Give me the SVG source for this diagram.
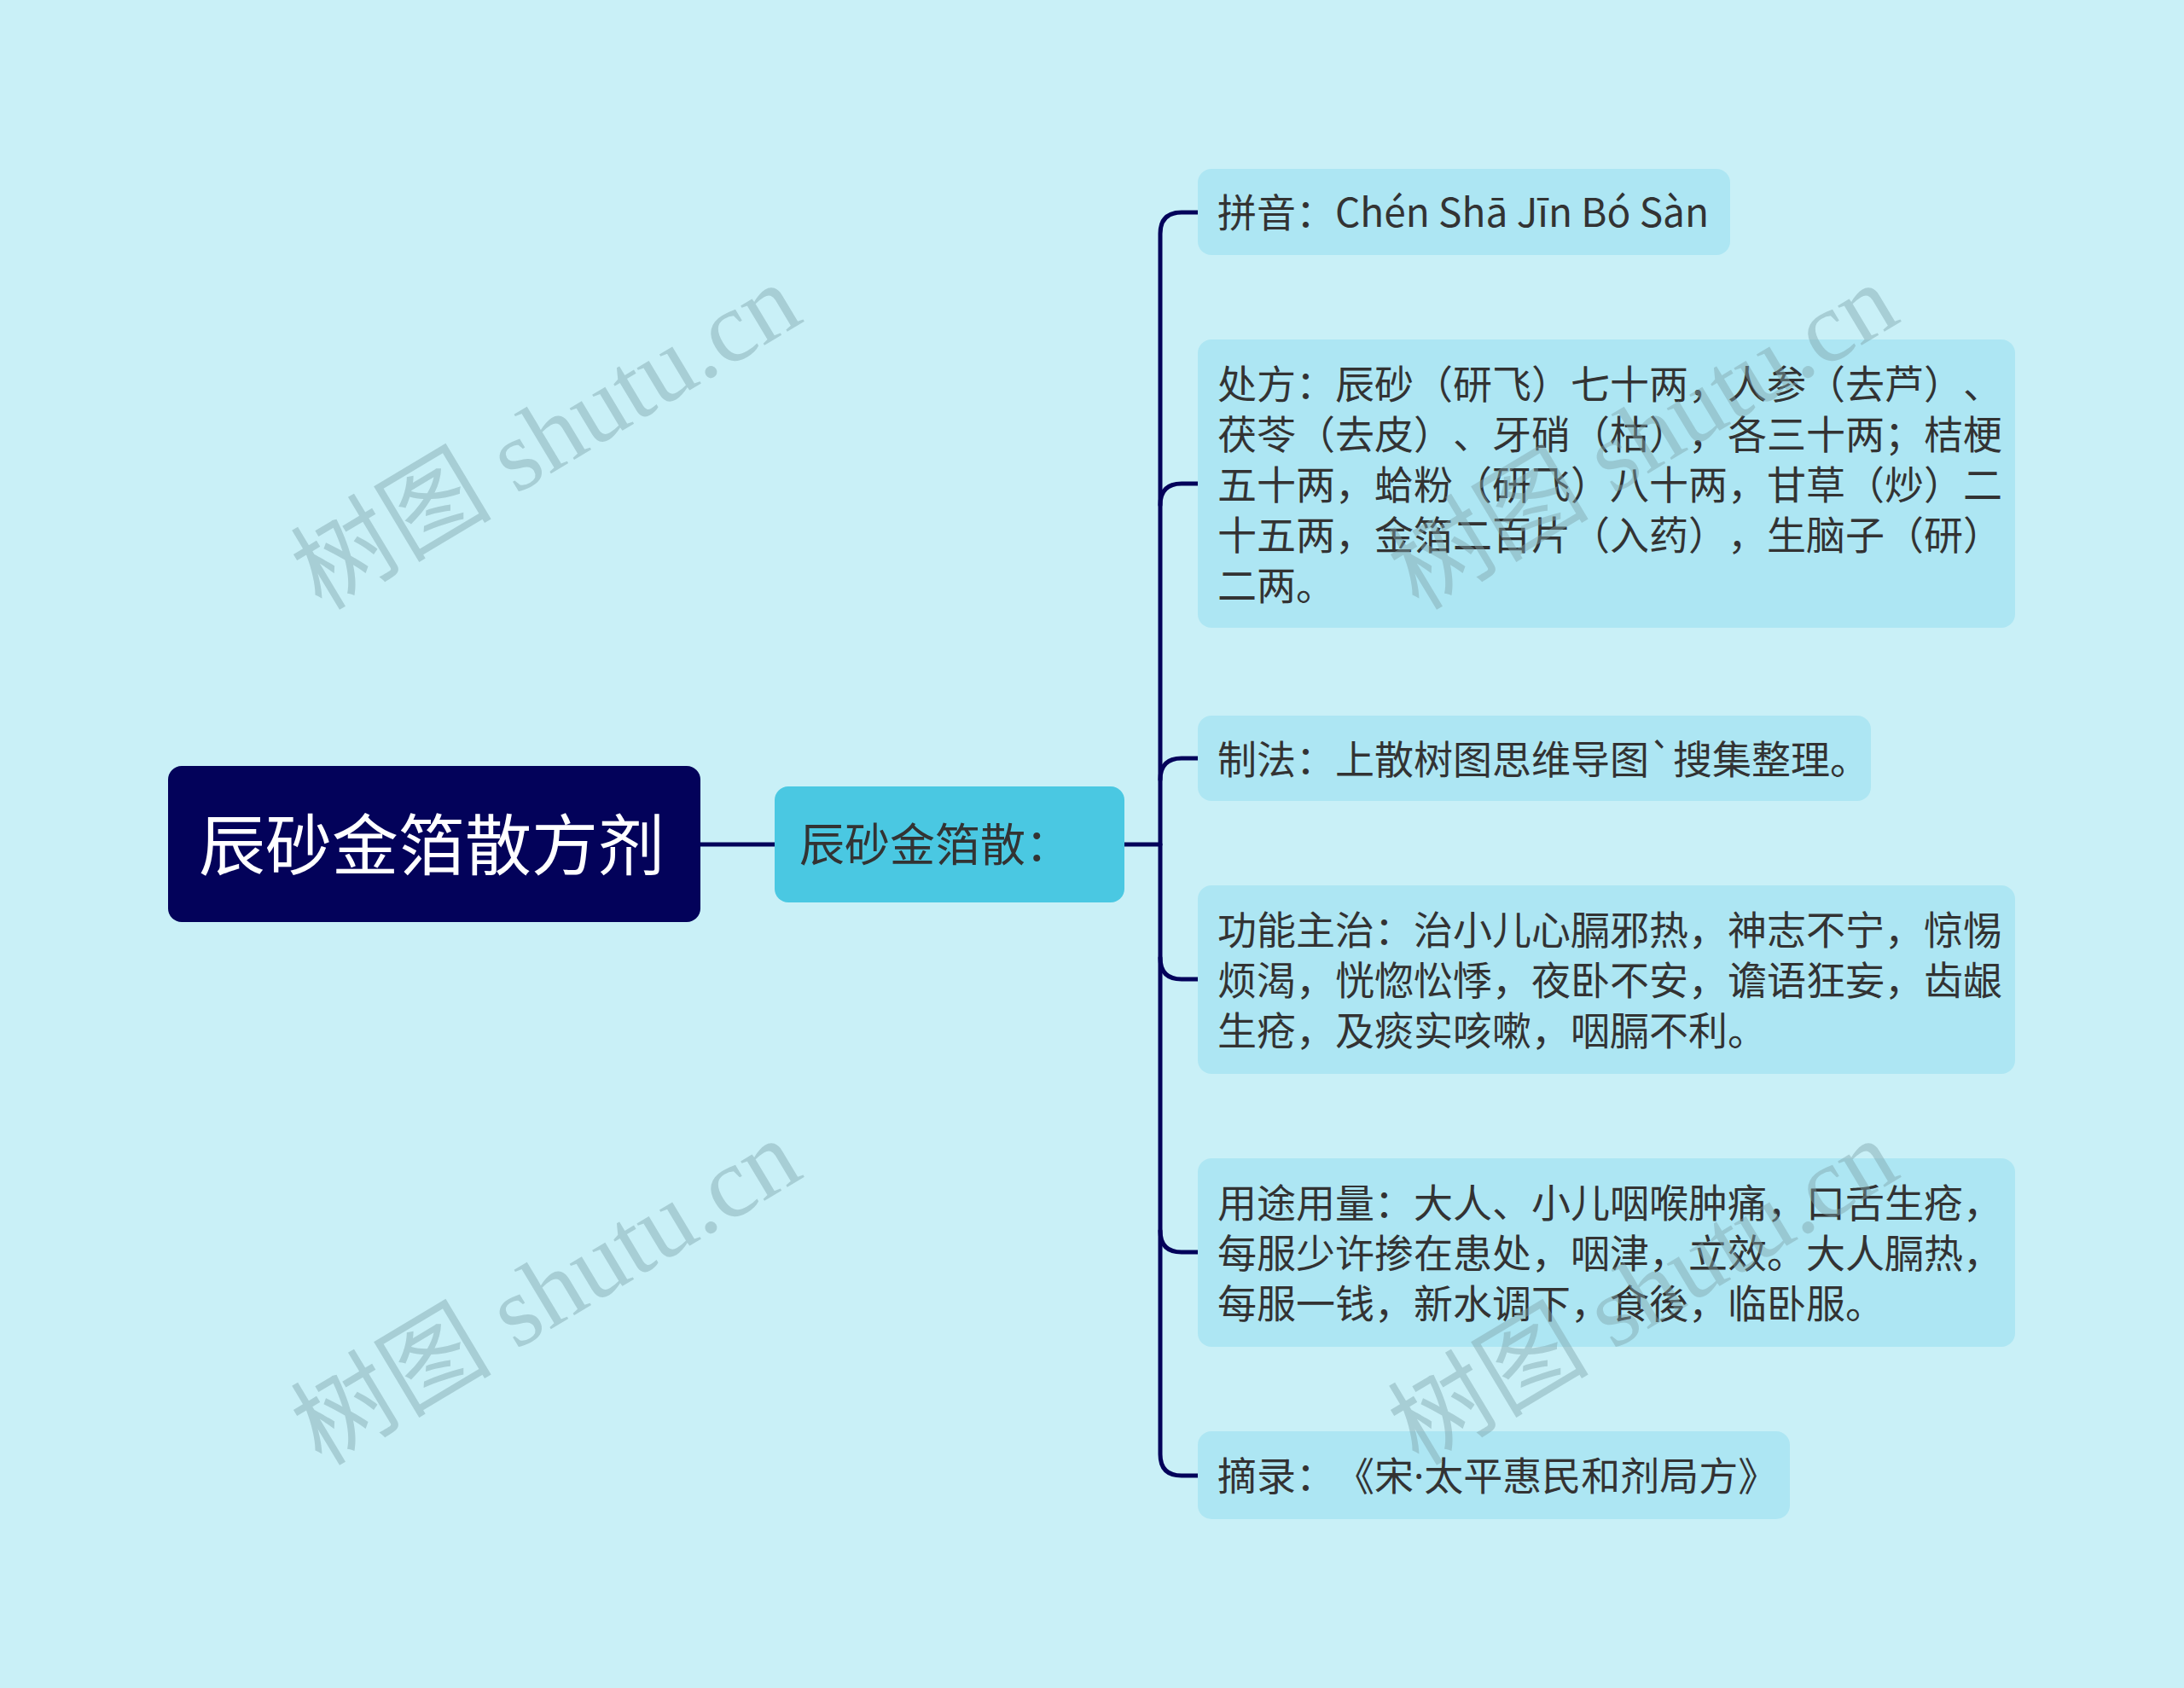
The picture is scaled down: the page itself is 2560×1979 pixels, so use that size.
<svg xmlns="http://www.w3.org/2000/svg" width="2560" height="1979" viewBox="0 0 2560 1979">
<style>
.bg{fill:#c9f0f7}
.root{fill:#03025a}
.sub{fill:#4ac8e2}
.leaf{fill:#ade6f3}
.t{font-family:"Noto Sans CJK SC","Noto Sans",sans-serif;fill:#333333;text-spacing-trim:space-all}
.rt{font-family:"Noto Sans CJK SC","Noto Sans",sans-serif;fill:#ffffff;font-size:78px}
.st{font-size:53px}
.lt{font-size:46px}
.dot{font-family:"Noto Sans","Liberation Sans",sans-serif}
.conn{fill:none;stroke:#03025a;stroke-width:5;stroke-linecap:round;stroke-linejoin:round}
.wm{font-family:"Liberation Serif","Noto Sans CJK SC",serif;font-size:118px;fill:#7fa3ab;fill-opacity:0.45}
</style>
<rect class="bg" x="0" y="0" width="2560" height="1979"/>
<g id="connectors">
<path class="conn" d="M821 990 H908"/>
<path class="conn" d="M1318 990 H1360"/>
<path class="conn" d="M1404 249 H1385 Q1360 249 1360 274 V1705 Q1360 1730 1385 1730 H1404"/>
<path class="conn" d="M1404 567 H1385 Q1360 567 1360 592"/>
<path class="conn" d="M1404 889 H1385 Q1360 889 1360 914"/>
<path class="conn" d="M1404 1148 H1385 Q1360 1148 1360 1123"/>
<path class="conn" d="M1404 1468 H1385 Q1360 1468 1360 1443"/>
</g>
<g id="node-root">
<rect class="root" x="197" y="898" width="624" height="183" rx="16"/>
<text class="rt" x="233" y="1020">辰砂金箔散方剂</text>
</g>
<g id="node-main">
<rect class="sub" x="908" y="922" width="410" height="136" rx="16"/>
<text class="t st" x="937" y="1010">辰砂金箔散：</text>
</g>
<g id="node-pinyin">
<rect class="leaf" x="1404" y="198" width="624" height="101" rx="16"/>
<text class="t lt" x="1427" y="266">拼音：Chén Shā Jīn Bó Sàn</text>
</g>
<g id="node-chufang">
<rect class="leaf" x="1404" y="398" width="958" height="338" rx="16"/>
<text class="t lt" x="1427" y="466.5">处方：辰砂（研飞）七十两，人参（去芦）、</text>
<text class="t lt" x="1427" y="525.5">茯苓（去皮）、牙硝（枯），各三十两；桔梗</text>
<text class="t lt" x="1427" y="584.5">五十两，蛤粉（研飞）八十两，甘草（炒）二</text>
<text class="t lt" x="1427" y="643.5">十五两，金箔二百片（入药），生脑子（研）</text>
<text class="t lt" x="1427" y="702.5">二两。</text>
</g>
<g id="node-zhifa">
<rect class="leaf" x="1404" y="839" width="789" height="100" rx="16"/>
<text class="t lt" x="1427" y="906.5">制法：上散树图思维导图`搜集整理。</text>
</g>
<g id="node-gongneng">
<rect class="leaf" x="1404" y="1038" width="958" height="221" rx="16"/>
<text class="t lt" x="1427" y="1106.5">功能主治：治小儿心膈邪热，神志不宁，惊惕</text>
<text class="t lt" x="1427" y="1165.5">烦渴，恍惚忪悸，夜卧不安，谵语狂妄，齿龈</text>
<text class="t lt" x="1427" y="1224.5">生疮，及痰实咳嗽，咽膈不利。</text>
</g>
<g id="node-yongtu">
<rect class="leaf" x="1404" y="1358" width="958" height="221" rx="16"/>
<text class="t lt" x="1427" y="1426.5">用途用量：大人、小儿咽喉肿痛，口舌生疮，</text>
<text class="t lt" x="1427" y="1485.5">每服少许掺在患处，咽津，立效。大人膈热，</text>
<text class="t lt" x="1427" y="1544.5">每服一钱，新水调下，食後，临卧服。</text>
</g>
<g id="node-zhailu">
<rect class="leaf" x="1404" y="1678" width="694" height="103" rx="16"/>
<text class="t lt" x="1427" y="1747">摘录：《宋<tspan class="dot">·</tspan>太平惠民和剂局方》</text>
</g>
<g id="watermarks">
<text class="wm" text-anchor="middle" transform="translate(640 512) rotate(-31)" y="40">树图 shutu.cn</text>
<text class="wm" text-anchor="middle" transform="translate(640 1515) rotate(-31)" y="40">树图 shutu.cn</text>
<text class="wm" text-anchor="middle" transform="translate(1926 512) rotate(-31)" y="40">树图 shutu.cn</text>
<text class="wm" text-anchor="middle" transform="translate(1926 1515) rotate(-31)" y="40">树图 shutu.cn</text>
</g>
</svg>
